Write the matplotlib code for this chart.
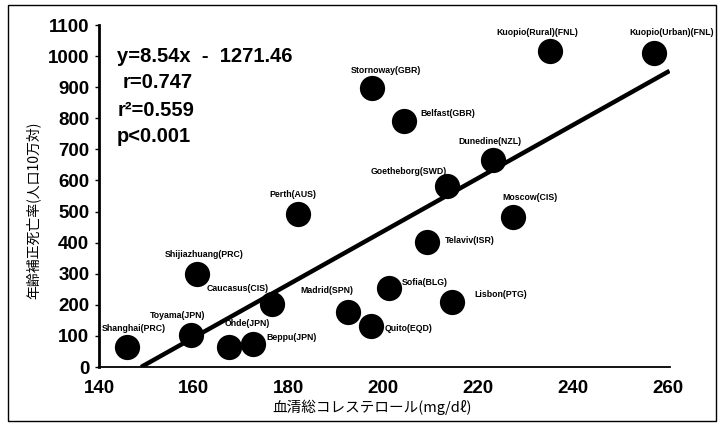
import numpy as np
import matplotlib.pyplot as plt
from matplotlib.patches import Rectangle

# serum total cholesterol (mg/dl) vs age-adjusted mortality (per 100,000)
cities = [
    'Shanghai(PRC)', 'Toyama(JPN)', 'Shijiazhuang(PRC)', 'Ohde(JPN)', 'Beppu(JPN)',
    'Caucasus(CIS)', 'Madrid(SPN)', 'Perth(AUS)', 'Quito(EQD)', 'Sofia(BLG)',
    'Lisbon(PTG)', 'Telaviv(ISR)', 'Moscow(CIS)', 'Goetheborg(SWD)', 'Dunedine(NZL)',
    'Belfast(GBR)', 'Stornoway(GBR)', 'Kuopio(Rural)(FNL)', 'Kuopio(Urban)(FNL)',
]
cholesterol = [146.0, 159.5, 160.6, 167.4, 172.5, 176.5, 192.6, 182.1, 197.5, 201.1,
               214.5, 209.3, 227.4, 213.5, 223.2, 204.4, 197.7, 235.2, 257.1]
mortality = [65, 103, 298, 63, 73, 202, 178, 492, 133, 255,
             208, 401, 483, 582, 666, 791, 897, 1016, 1010]

slope, intercept = 8.54, -1271.46
r_value, r_squared = 0.747, 0.559

# label placement: (dx, dy) in pixels from the marker, horizontal alignment
label_pos = [
    (-26, 18, 'left'), (-42, 19, 'left'), (8, 20, 'center'), (-4, 24, 'left'),
    (13, 7, 'left'), (-65, 16, 'left'), (-48, 21, 'left'), (-6, 20, 'center'),
    (13, -3, 'left'), (13, 5, 'left'), (22, 8, 'left'), (17, 2, 'left'),
    (17, 19, 'center'), (-39, 15, 'center'), (-3, 18, 'center'), (16, 8, 'left'),
    (14, 18, 'center'), (-13, 19, 'center'), (18, 20, 'center'),
]

jp = ['Noto Sans CJK JP', 'DejaVu Sans']

fig = plt.figure(figsize=(7.18, 4.23), dpi=100)
ax = fig.add_axes([99 / 718, 56 / 423, 571 / 718, 342 / 423])

ax.scatter(cholesterol, mortality, s=330, c='black', zorder=3, linewidths=0)

x_fit = np.array([-intercept / slope, 260.4])
ax.plot(x_fit, slope * x_fit + intercept, color='black', lw=3.2, zorder=2,
        solid_capstyle='butt')

for name, x, y, (dx, dy, ha) in zip(cities, cholesterol, mortality, label_pos):
    ax.annotate(name, (x, y), xytext=(dx, dy), textcoords='offset pixels',
                ha=ha, va='center', fontsize=6.3, fontweight='bold',
                family='Liberation Sans', zorder=4)

ax.set_xlim(140, 260.5)
ax.set_ylim(0, 1100)
ax.set_xticks(np.arange(140, 261, 20))
ax.set_yticks(np.arange(0, 1101, 100))
for lbl in ax.get_xticklabels() + ax.get_yticklabels():
    lbl.set_family('Liberation Sans')
    lbl.set_fontweight('bold')
    lbl.set_fontsize(13.5)
ax.tick_params(axis='y', length=3, width=1, pad=4)
ax.tick_params(axis='x', length=0, pad=9)

ax.spines['top'].set_visible(False)
ax.spines['right'].set_visible(False)
ax.spines['left'].set_linewidth(2)
ax.spines['bottom'].set_linewidth(1.3)

ax.set_xlabel('血清総コレステロール(mg/dℓ)', family=jp, fontsize=10.5)
ax.set_ylabel('年齢補正死亡率(人口10万対)', family=jp, fontsize=10)
ax.xaxis.set_label_coords(0.478, -0.095)
ax.yaxis.set_label_coords(-0.103, 0.459)

# regression summary
stats = [
    (117, 57, 'y=8.54x  -  1271.46'),
    (123, 82, f'r={r_value:.3f}'),
    (118, 110, f'r²={r_squared:.3f}'),
    (117, 137, 'p<0.001'),
]
for px, py, s in stats:
    fig.text(px / 718, 1 - py / 423, s, ha='left', va='center', fontsize=14.5,
             fontweight='bold', family='Liberation Sans')

fig.patches.append(Rectangle((8 / 718, 2 / 423), 708 / 718, 416 / 423,
                             transform=fig.transFigure, fill=False,
                             edgecolor='black', lw=1))

fig.savefig('out.png', dpi=100)
